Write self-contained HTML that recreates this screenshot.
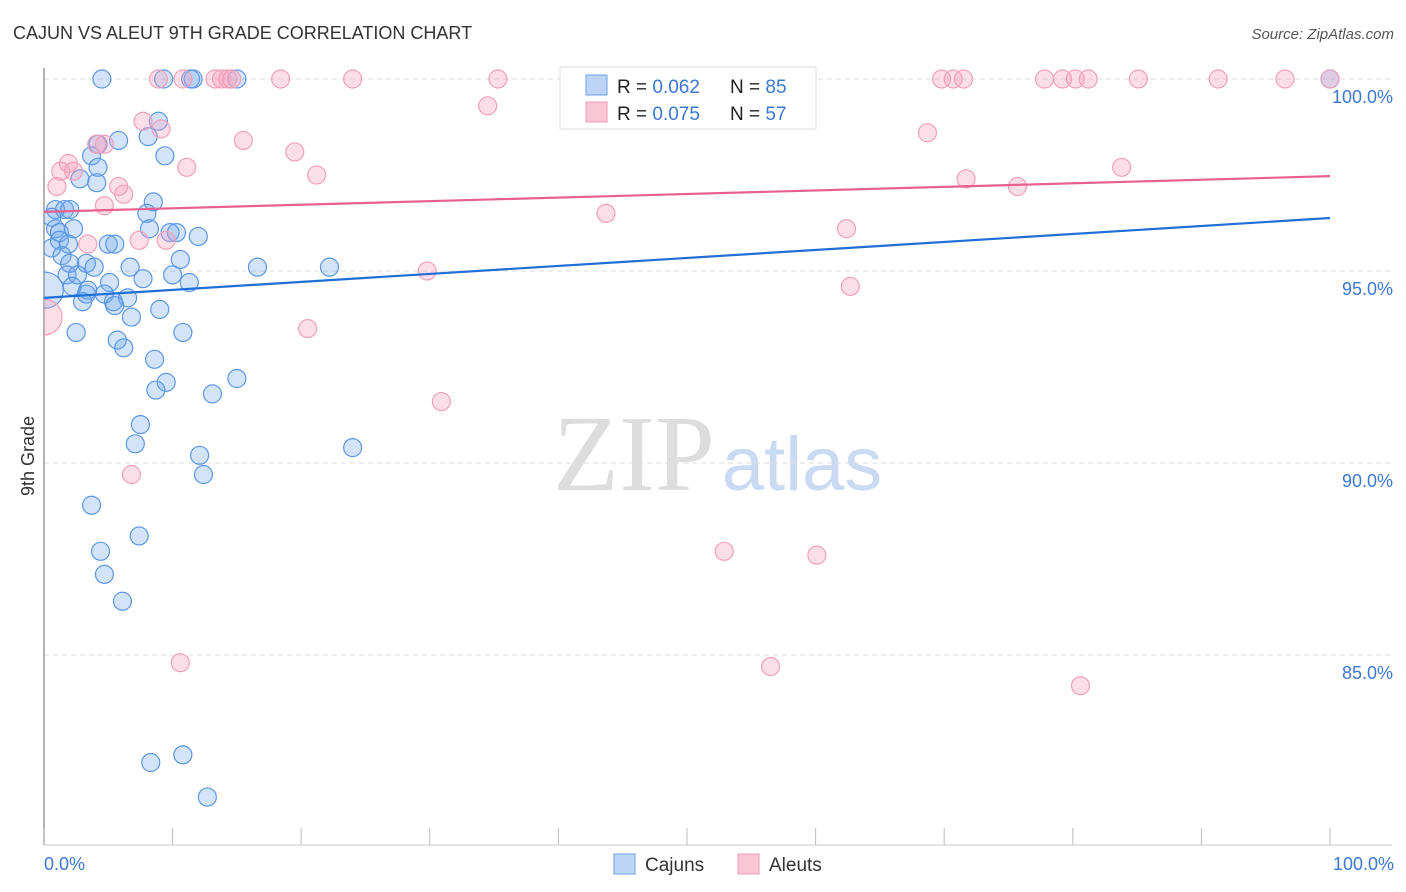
<!DOCTYPE html>
<html><head><meta charset="utf-8"><style>
body{margin:0;background:#fff;font-family:"Liberation Sans",sans-serif}
svg{display:block}
</style></head><body>
<svg id="c" width="1406" height="892" xmlns="http://www.w3.org/2000/svg">
<defs><clipPath id="plot"><rect x="44" y="0" width="1362" height="845"/></clipPath></defs>
<text x="13" y="39" font-size="18" fill="#333">CAJUN VS ALEUT 9TH GRADE CORRELATION CHART</text>
<text x="1394" y="39" font-size="15" fill="#555" font-style="italic" text-anchor="end">Source: ZipAtlas.com</text>
<g>
<text x="634" y="490" font-size="108" font-family="Liberation Serif,serif" fill="#ddd" text-anchor="middle">ZIP</text>
<text x="802" y="490" font-size="76" fill="#c9daf2" text-anchor="middle">atlas</text>
</g>
<g id="grid"></g>
<line x1="44" y1="68" x2="44" y2="845" stroke="#999" stroke-width="1.5"/>
<line x1="44" y1="845" x2="1392" y2="845" stroke="#ccc" stroke-width="1"/>
<g id="ticks"></g>
<text transform="translate(34,456) rotate(-90)" font-size="18" fill="#333" text-anchor="middle">9th Grade</text>
<text x="44" y="870" font-size="18" fill="#3a78d4">0.0%</text>
<text x="1394" y="870" font-size="18" fill="#3a78d4" text-anchor="end">100.0%</text>
<g id="pts" clip-path="url(#plot)"></g>
<g id="lines"></g>
<g>
<rect x="560" y="67" width="256" height="62" fill="#fff" stroke="#ddd"/>
<rect x="586" y="75" width="21" height="20" fill="#bcd5f7" stroke="#6ea0e6"/>
<rect x="586" y="102" width="21" height="20" fill="#fac6d5" stroke="#f09ab5"/>
<text x="617" y="93" font-size="19" fill="#222">R = <tspan fill="#3a78d4">0.062</tspan></text>
<text x="730" y="93" font-size="19" fill="#222">N = <tspan fill="#3a78d4">85</tspan></text>
<text x="617" y="120" font-size="19" fill="#222">R = <tspan fill="#3a78d4">0.075</tspan></text>
<text x="730" y="120" font-size="19" fill="#222">N = <tspan fill="#3a78d4">57</tspan></text>
</g>
<g>
<rect x="614" y="854" width="21" height="20" fill="#bcd5f7" stroke="#6ea0e6"/>
<text x="645" y="871" font-size="19" fill="#333">Cajuns</text>
<rect x="738" y="854" width="21" height="20" fill="#fac6d5" stroke="#f09ab5"/>
<text x="769" y="871" font-size="19" fill="#333">Aleuts</text>
</g>
</svg>
<script>
const yTicks=[100,95,90,85];
const yTickLabels=["100.0%","95.0%","90.0%","85.0%"];
const xTicks=[0,10,20,30,40,50,60,70,80,90,100];
const cajunX=[4.5,9.3,11.4,11.6,15.0,100,5.8,8.1,8.9,9.4,4.2,3.7,4.2,2.8,4.1,8.5,8.0,0.9,1.6,2.0,0.6,0.9,1.2,2.3,8.2,9.8,10.3,12.0,5.0,5.5,0.6,1.2,1.9,1.4,2.0,3.3,3.9,6.7,10.6,16.6,22.2,1.8,2.6,10.0,11.3,7.7,5.1,2.2,3.4,3.3,4.7,6.5,3.0,5.4,5.5,9.0,6.8,2.5,5.7,6.2,10.8,8.6,9.5,8.7,13.1,15.0,7.5,7.1,24.0,12.1,12.4,3.7,4.4,7.4,4.7,6.1,8.3,10.8,12.7,0.1];
const cajunY=[100,100,100,100,100,100,98.4,98.5,98.9,98.0,98.3,98.0,97.7,97.4,97.3,96.8,96.5,96.6,96.6,96.6,96.4,96.1,96.0,96.1,96.1,96.0,96.0,95.9,95.7,95.7,95.6,95.8,95.7,95.4,95.2,95.2,95.1,95.1,95.3,95.1,95.1,94.9,94.9,94.9,94.7,94.8,94.7,94.6,94.5,94.4,94.4,94.3,94.2,94.2,94.1,94.0,93.8,93.4,93.2,93.0,93.4,92.7,92.1,91.9,91.8,92.2,91.0,90.5,90.4,90.2,89.7,88.9,87.7,88.1,87.1,86.4,82.2,82.4,81.3,94.5];
const cajunBig=[79];
const aleutX=[8.9,10.8,13.3,13.8,14.3,14.6,18.4,24.0,35.3,47.4,55.4,69.8,70.7,71.5,77.8,79.2,80.2,81.2,85.1,91.3,96.5,100,7.7,9.1,15.5,34.5,68.7,4.1,4.7,19.5,1.9,1.3,2.3,1.0,11.1,21.2,5.8,6.2,4.7,43.7,71.7,75.7,83.8,62.4,7.4,9.5,3.4,29.8,62.7,20.5,0,30.9,6.8,52.9,60.1,10.6,56.5,80.6];
const aleutY=[100,100,100,100,100,100,100,100,100,100,100,100,100,100,100,100,100,100,100,100,100,100,98.9,98.7,98.4,99.3,98.6,98.3,98.3,98.1,97.8,97.6,97.6,97.2,97.7,97.5,97.2,97.0,96.7,96.5,97.4,97.2,97.7,96.1,95.8,95.8,95.7,95.0,94.6,93.5,93.8,91.6,89.7,87.7,87.6,84.8,84.7,84.2];
const aleutBig=[50];
const cajunTrend=[94.30,96.38];
const aleutTrend=[96.54,97.47];
const X=v=>44+v*12.86, Y=v=>79+(100-v)*38.4;
const NS="http://www.w3.org/2000/svg";
function mk(t,a,p){const e=document.createElementNS(NS,t);for(const k in a)e.setAttribute(k,a[k]);p.appendChild(e);return e;}
const grid=document.getElementById('grid');
yTicks.forEach((t,i)=>{
 const l=mk('line',{x1:44,x2:1392,y1:Y(t),y2:Y(t),stroke:'#ddd','stroke-dasharray':'5,4'},grid);
 
 
 const tx=mk('text',{x:1393,y:Y(t)+24,'font-size':18,fill:'#3a78d4','text-anchor':'end'},grid);
 tx.textContent=yTickLabels[i];
 
 
});
const tk=document.getElementById('ticks');
xTicks.forEach(t=>{
 const l=mk('line',{x1:X(t),x2:X(t),y1:828,y2:845,stroke:'#bbb'},tk);
 
 
});
const pts=document.getElementById('pts');
function draw(xs,ys,big,fill,stroke,name){
 xs.forEach((x,i)=>{
  const c=mk('circle',{cx:X(x),cy:Y(ys[i]),r:big.includes(i)?18:9,fill:fill,stroke:stroke,'stroke-width':1.2},pts);
  
  
 });
}
draw(cajunX,cajunY,cajunBig,'rgba(110,165,240,0.3)','#5b97e6','cajun-point');
draw(aleutX,aleutY,aleutBig,'rgba(245,160,188,0.35)','#f0a0b8','aleut-point');
const lg=document.getElementById('lines');
const l1=mk('line',{x1:X(0),x2:X(100),y1:Y(cajunTrend[0]),y2:Y(cajunTrend[1]),stroke:'#1f6fd6','stroke-width':2.2},lg);


const l2=mk('line',{x1:X(0),x2:X(100),y1:Y(aleutTrend[0]),y2:Y(aleutTrend[1]),stroke:'#e8608f','stroke-width':2.2},lg);


</script>
</body></html>
